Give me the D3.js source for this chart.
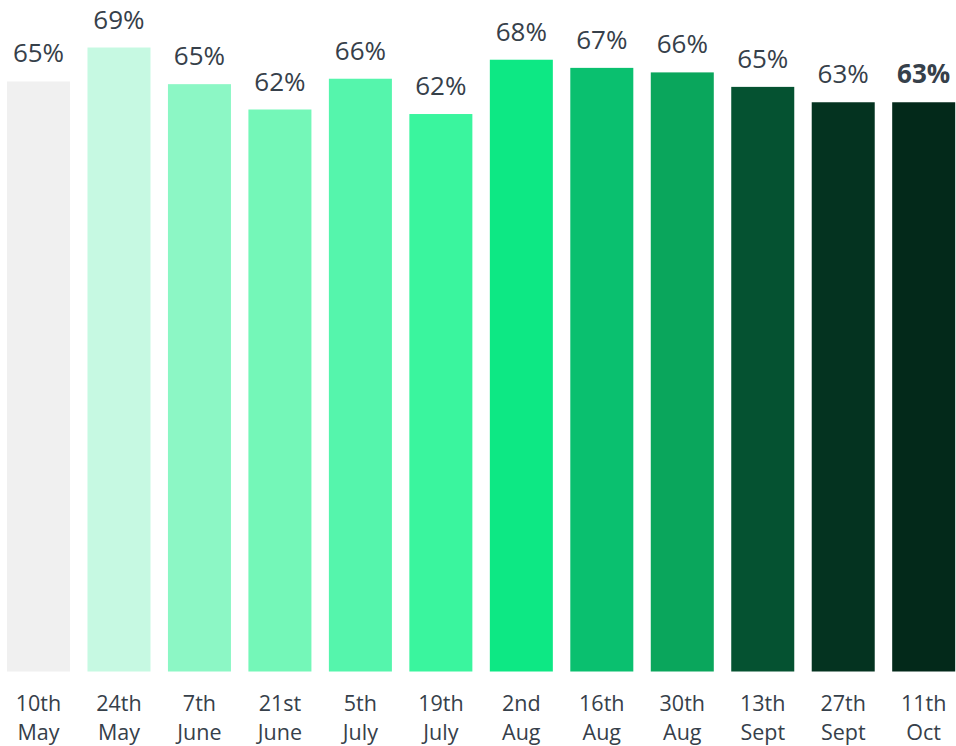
<!DOCTYPE html>
<html>
<head>
<meta charset="utf-8">
<script src="https://cdn.jsdelivr.net/npm/d3@7"></script>
<style>
  html, body { margin: 0; padding: 0; background: #ffffff; }
  svg { display: block; }
</style>
</head>
<body>
<svg id="chart" width="956" height="746"></svg>
<script>
const categoriesLine1 = ["10th", "24th", "7th", "21st", "5th", "19th", "2nd", "16th", "30th", "13th", "27th", "11th"];
const categoriesLine2 = ["May", "May", "June", "June", "July", "July", "Aug", "Aug", "Aug", "Sept", "Sept", "Oct"];
const values = [65.2, 68.95, 64.9, 62.1, 65.5, 61.6, 67.6, 66.7, 66.2, 64.6, 62.9, 62.9];
const colors = ["#f0f0f0", "#c6f9e2", "#8cf7c5", "#74f7b8", "#55f5ac", "#3af59e", "#0de884", "#0ac06f", "#0aa65c", "#055231", "#043320", "#03291a"];
const boldLabel = [false, false, false, false, false, false, false, false, false, false, false, true];

const svg = d3.select("#chart");
const keys = categoriesLine1.map((d, i) => i);

const x = d3.scaleBand()
  .domain(keys)
  .range([7, 955.2])
  .paddingInner(0.217)
  .paddingOuter(0);

const y = d3.scaleLinear()
  .domain([0, 74.2])
  .range([671.5, 0]);

const textColor = "#36404a";
const font = "'Open Sans', 'Noto Sans', sans-serif";

svg.selectAll("rect.bar")
  .data(values)
  .join("rect")
  .attr("class", "bar")
  .attr("x", (d, i) => x(i))
  .attr("width", x.bandwidth())
  .attr("y", d => y(d))
  .attr("height", d => y(0) - y(d))
  .attr("fill", (d, i) => colors[i]);

svg.selectAll("text.val")
  .data(values)
  .join("text")
  .attr("class", "val")
  .attr("x", (d, i) => x(i) + x.bandwidth() / 2)
  .attr("y", d => y(d) - 19)
  .attr("text-anchor", "middle")
  .attr("font-family", font)
  .attr("font-size", 26)
  .attr("font-weight", (d, i) => boldLabel[i] ? 700 : 400)
  .attr("fill", textColor)
  .text(d => Math.round(d) + "%");

const lab = svg.selectAll("text.cat")
  .data(keys)
  .join("text")
  .attr("class", "cat")
  .attr("text-anchor", "middle")
  .attr("font-family", font)
  .attr("font-size", 21.5)
  .attr("fill", textColor);

lab.append("tspan")
  .attr("x", i => x(i) + x.bandwidth() / 2)
  .attr("y", 711)
  .text(i => categoriesLine1[i]);
lab.append("tspan")
  .attr("x", i => x(i) + x.bandwidth() / 2)
  .attr("y", 740)
  .text(i => categoriesLine2[i]);
</script>
</body>
</html>
